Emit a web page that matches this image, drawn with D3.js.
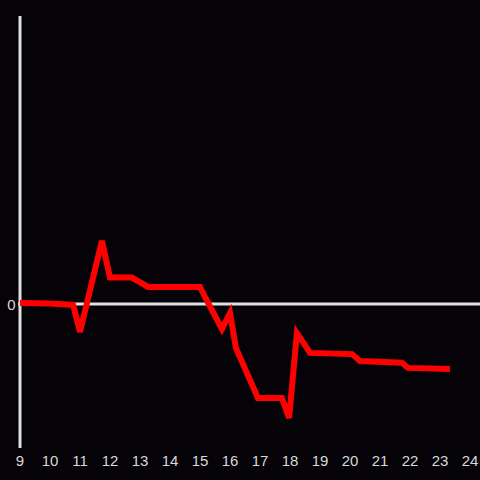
<!DOCTYPE html>
<html>
<head>
<meta charset="utf-8">
<script src="https://cdn.jsdelivr.net/npm/d3@7"></script>
<style>
  html, body { margin: 0; padding: 0; background: #050307; }
  svg { display: block; }
</style>
</head>
<body>
<div id="chart"></div>
<script>
// data: hour of day and value
const hours = [9, 10, 10.77, 11, 11.73, 12, 12.73, 13.27, 15, 15.17, 15.73, 16, 16.2, 16.93,
  17.73, 17.97, 18.23, 18.67, 20.07, 20.33, 21.73, 21.93, 23.33];
const values = [0.03, 0.02, -0.03, -0.93, 2.1, 0.88, 0.88, 0.57, 0.57, 0.23, -0.83, -0.3, -1.47, -3.13,
  -3.13, -3.8, -0.97, -1.63, -1.67, -1.9, -1.96, -2.13, -2.17];
const x_ticks = d3.range(9, 25);
const y_ticks = [0];

const params = {
  width: 480,
  height: 480,
  bg: "#050307",
  axis_color: "#e0e0e0",
  text_color: "#d8d8d8",
  line_color: "#ff0000",
  line_width: 6,
  font: "15px 'Liberation Sans', Arial, sans-serif"
};

const x = d3.scaleLinear().domain([9, 24]).range([20, 470]),
  y = d3.scaleLinear().domain([-4.8, 9.6]).range([448, 16]);

const svg = d3.select("#chart").append("svg")
  .attr("width", params.width)
  .attr("height", params.height)
  .style("background", params.bg);

// zero line
svg.append("line")
  .attr("x1", 18).attr("x2", params.width)
  .attr("y1", y(0)).attr("y2", y(0))
  .attr("stroke", params.axis_color)
  .attr("stroke-width", 3);

// vertical axis
svg.append("line")
  .attr("x1", x(9)).attr("x2", x(9))
  .attr("y1", y.range()[0]).attr("y2", y.range()[1])
  .attr("stroke", params.axis_color)
  .attr("stroke-width", 3);

// x tick labels
svg.append("g").selectAll("text")
  .data(x_ticks)
  .join("text")
  .attr("x", d => x(d))
  .attr("y", 466)
  .attr("text-anchor", "middle")
  .attr("fill", params.text_color)
  .style("font", params.font)
  .text(d => d);

// y tick labels
svg.append("g").selectAll("text")
  .data(y_ticks)
  .join("text")
  .attr("x", 15.5)
  .attr("y", d => y(d) + 5.5)
  .attr("text-anchor", "end")
  .attr("fill", params.text_color)
  .style("font", params.font)
  .text(d => d);

const line = d3.line()
  .x(d => x(d[0]))
  .y(d => y(d[1]));

svg.append("path")
  .datum(d3.zip(hours, values))
  .attr("d", line)
  .attr("fill", "none")
  .attr("stroke", params.line_color)
  .attr("stroke-width", params.line_width);
</script>
</body>
</html>
